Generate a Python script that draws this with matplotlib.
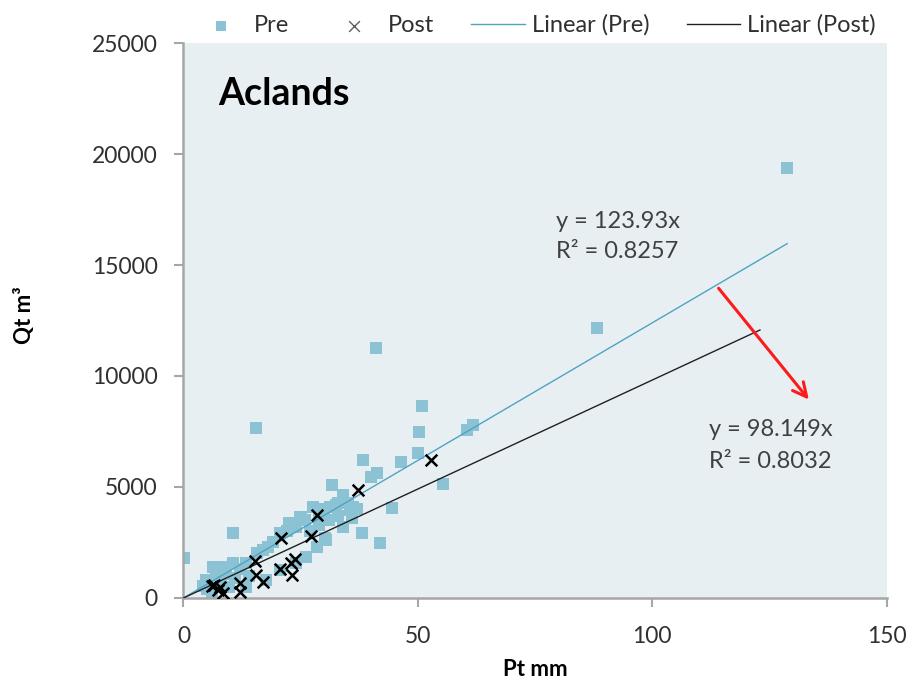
import numpy as np
import matplotlib.pyplot as plt

plt.rcParams['font.family'] = ['Lato', 'DejaVu Sans']

# rainfall (Pt, mm) and runoff volume (Qt, m3) for each event
pre_pt = [0.2, 4.2, 4.9, 5.0, 6.0, 6.3, 7.0, 8.0, 8.4, 9.0, 9.8, 10.5, 10.5, 11.0,
          12.0, 13.4, 13.4, 14.0, 15.4, 15.7, 16.9, 17.7, 18.0, 19.0, 20.5, 20.5,
          22.0, 22.6, 23.2, 24.0, 24.1, 24.8, 25.1, 26.0, 26.2, 27.0, 27.6,
          28.4, 29.0, 29.0, 30.0, 30.1, 30.5, 31.0, 31.2, 31.7, 32.6, 33.0,
          33.0, 34.0, 34.0, 35.0, 35.5, 36.0, 36.2, 37.0, 38.0, 38.2, 40.1,
          41.0, 41.2, 41.9, 44.4, 46.4, 50.1, 50.3, 50.9, 55.4, 60.6, 61.8,
          88.2, 128.8]
pre_qt = [1790, 560, 810, 400, 200, 1410, 960, 600, 1410, 1100, 510, 1560, 2910, 900,
          1300, 510, 1560, 1000, 7640, 2010, 2160, 810, 2300, 2500, 1260, 2910,
          3000, 3360, 3300, 3200, 1560, 3660, 3660, 3500, 1860, 3000, 4110,
          2310, 3800, 3300, 4000, 2690, 2610, 3500, 4110, 5090, 4190, 4300,
          3700, 3210, 4640, 4300, 3950, 3600, 4110, 4000, 2910, 6220, 5470,
          11260, 5620, 2490, 4040, 6140, 6550, 7490, 8650, 5120, 7570, 7780,
          12160, 19370]

post_pt = [6.0, 6.6, 7.3, 7.7, 8.4, 12.0, 12.0, 15.2, 15.5, 16.9, 20.5, 20.9,
           23.0, 23.2, 23.7, 27.3, 28.4, 37.2, 52.9]
post_qt = [560, 585, 360, 500, 210, 660, 285, 1670, 1040, 735, 1290, 2690,
           1560, 1040, 1740, 2790, 3740, 4860, 6220]

pre_slope, pre_r2 = 123.93, 0.8257
post_slope, post_r2 = 98.149, 0.8032

fig = plt.figure(figsize=(9.16, 6.83), dpi=100)
ax = fig.add_axes([0.2003, 0.1245, 0.7675, 0.8125])
ax.set_facecolor('#E8EFF3')

ax.scatter(pre_pt, pre_qt, marker='s', s=85, color='#8CC3D4', linewidths=0,
           label='Pre', zorder=2)
ax.scatter(post_pt, post_qt, marker='x', s=70, color='black', linewidths=1.8,
           label='Post', zorder=4)

xp = np.array([0, max(pre_pt)])
ax.plot(xp, pre_slope * xp, color='#4FA3C2', lw=1, label='Linear (Pre)', zorder=3)
xq = np.array([0, 123])
ax.plot(xq, post_slope * xq, color='#202020', lw=1, label='Linear (Post)', zorder=3)

ax.annotate('', xy=(133.8, 8840), xytext=(113.8, 14050),
            arrowprops=dict(arrowstyle='->', color='#FF1A1A', lw=2.2,
                            mutation_scale=25), zorder=5)

txt = dict(fontsize=17, color='#404040', va='center', ha='left')
ax.text(79.4, 16980, 'y = %.2fx' % pre_slope, **txt)
ax.text(79.4, 15590, 'R² = %.4f' % pre_r2, **txt)
ax.text(112.1, 7570, 'y = %.3fx' % post_slope, **txt)
ax.text(112.1, 6130, 'R² = %.4f' % post_r2, **txt)
ax.text(7.5, 22700, 'Aclands', fontsize=27, fontweight='bold', color='black',
        va='center', ha='left')

ax.set_xlim(0, 150)
ax.set_ylim(0, 25000)
ax.set_xticks([0, 50, 100, 150])
ax.set_yticks(range(0, 25001, 5000))
for s in ['top', 'right']:
    ax.spines[s].set_visible(False)
for s in ['left', 'bottom']:
    ax.spines[s].set_color('#A6A6A6')
    ax.spines[s].set_linewidth(1.8)
ax.tick_params(colors='#A6A6A6', labelcolor='#303030', labelsize=16.5,
               length=6.5, width=1.5)
ax.tick_params(axis='x', pad=14)
ax.tick_params(axis='y', pad=12)

ax.set_xlabel('Pt mm', fontsize=16, fontweight='bold', labelpad=8)
ax.set_ylabel('Qt m³', fontsize=16, fontweight='bold')
ax.yaxis.set_label_coords(-0.211, 0.51)

leg = fig.legend(loc='center', bbox_to_anchor=(0.584, 0.963), ncol=4,
                 frameon=False, fontsize=17, handlelength=2.25,
                 columnspacing=1.6, handletextpad=0.3, labelcolor='#303030')
hs = leg.legend_handles
hs[0].set_sizes([60])
hs[1].set_sizes([60])
hs[1].set_linewidth(1)
hs[1].set_color('#606060')

fig.savefig('out.png', dpi=100)
